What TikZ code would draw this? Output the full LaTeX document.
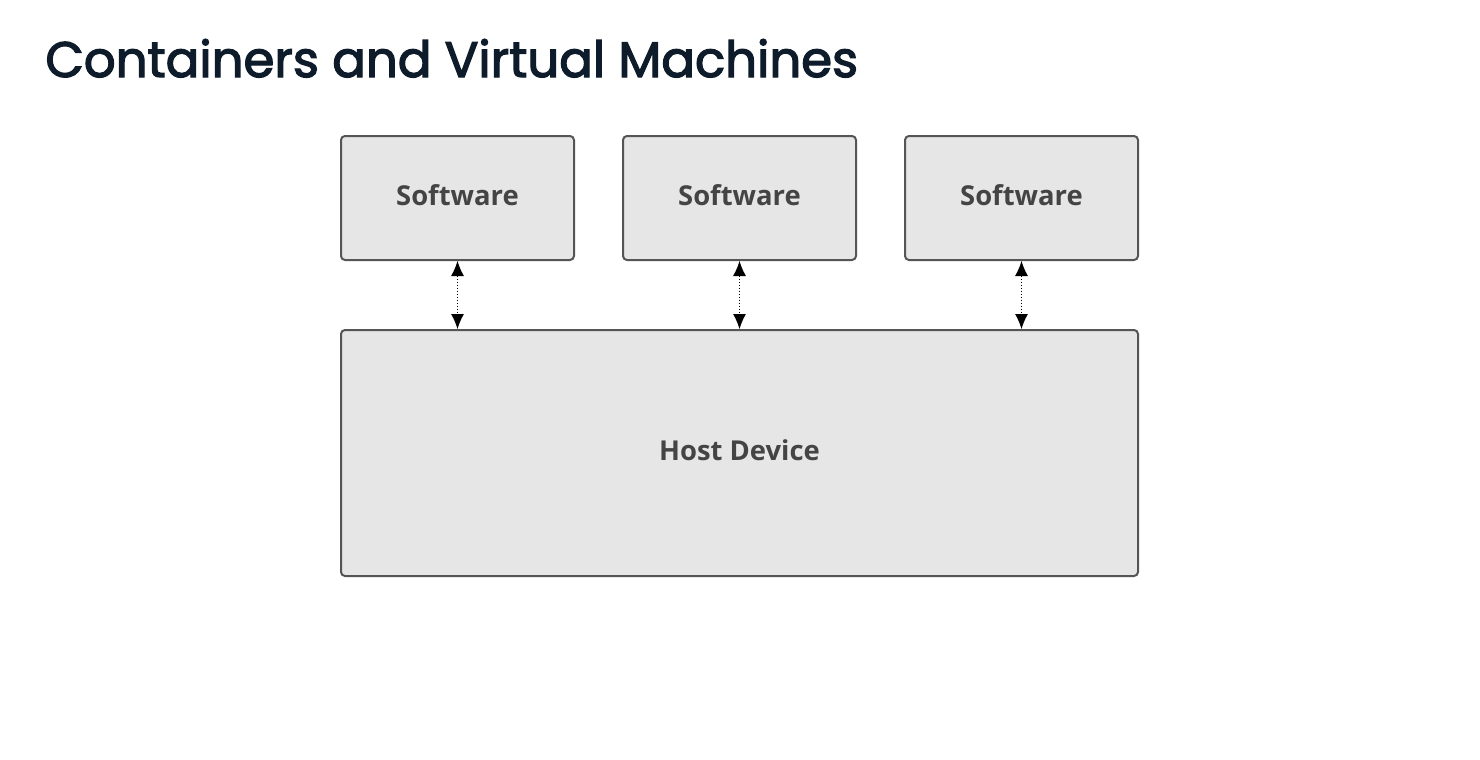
\documentclass[tikz,border=0pt]{standalone}
\usepackage{fontspec}
\setmainfont{Open Sans}
\newfontfamily\titlefont[FakeBold=2.6]{Poppins}
\usetikzlibrary{arrows.meta,positioning}
\definecolor{titleblue}{HTML}{0D1B2A}
\definecolor{boxfill}{HTML}{E6E6E6}
\definecolor{boxline}{HTML}{555555}
\definecolor{boxtext}{HTML}{444444}
\begin{document}
\begin{tikzpicture}[x=0.5pt,y=-0.5pt]
	\tikzset{box/.style={draw=boxline,fill=boxfill,line width=1pt,rounded corners=2pt,
		text=boxtext,font=\fontsize{13.7}{16}\selectfont\bfseries,inner sep=0pt,text depth=3pt}}
	\tikzset{soft/.style={box,minimum width=116.5pt,minimum height=62pt}}
	\useasboundingbox[fill=white] (0,0) rectangle (1480,760);
	\node[anchor=base west,text=titleblue,font=\titlefont\fontsize{24.9}{30}\selectfont,inner sep=0pt] (title) at (45,77) {Containers and Virtual Machines};
	\node[soft] (s1) at (457.5,198) {Software};
	\node[soft] (s2) at (739.5,198) {Software};
	\node[soft] (s3) at (1021.5,198) {Software};
	\node[box,minimum width=398.5pt,minimum height=123pt] (host) at (739.5,453) {Host Device};
	\path[{Latex[length=7.5pt,width=6.5pt]}-{Latex[length=7.5pt,width=6.5pt]},densely dotted,line width=0.5pt]
		(s1) edge node {} (s1 |- host.north)
		(s2) edge node {} (s2 |- host.north)
		(s3) edge node {} (s3 |- host.north);
\end{tikzpicture}
\end{document}
